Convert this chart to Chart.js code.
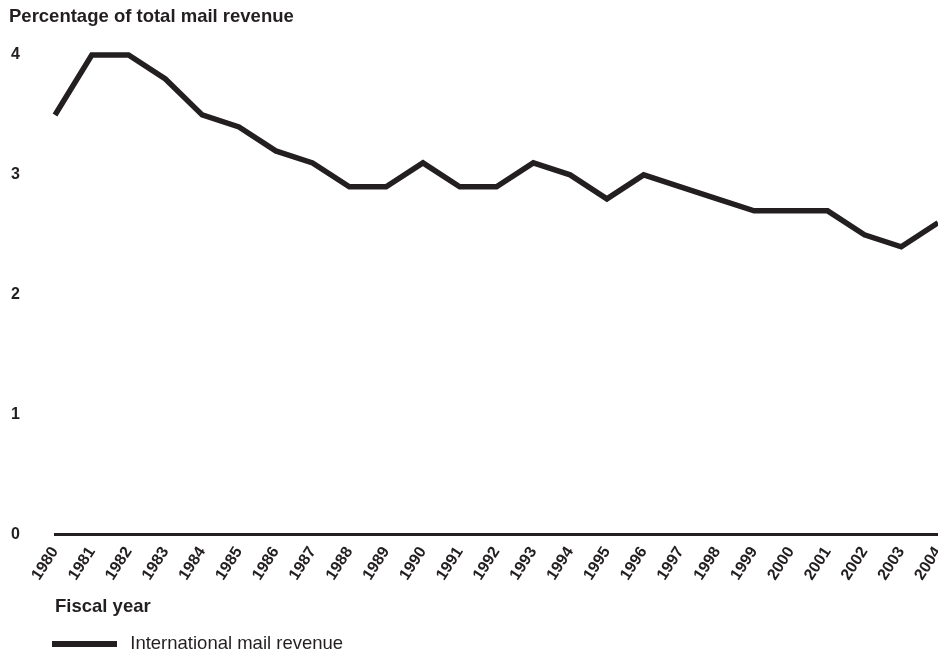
<!DOCTYPE html>
<html>
<head>
<meta charset="utf-8">
<script src="https://cdn.jsdelivr.net/npm/chart.js@4/dist/chart.umd.min.js"></script>
<style>
html,body{margin:0;padding:0;background:#fff;}
#wrap{width:938px;height:656px;position:relative;}
</style>
</head>
<body>
<div id="wrap"><canvas id="c" width="938" height="656"></canvas></div>
<script>
const years = ['1980','1981','1982','1983','1984','1985','1986','1987','1988','1989','1990','1991','1992','1993','1994','1995','1996','1997','1998','1999','2000','2001','2002','2003','2004'];
const intlRevenue = [3.5,4.0,4.0,3.8,3.5,3.4,3.2,3.1,2.9,2.9,3.1,2.9,2.9,3.1,3.0,2.8,3.0,2.9,2.8,2.7,2.7,2.7,2.5,2.4,2.6];
const yTicks = [0,1,2,3,4];
const seriesName = 'International mail revenue';
const chartTitle = 'Percentage of total mail revenue';
const xTitle = 'Fiscal year';

const INK = '#231f20';
const FONT = "'Liberation Sans', Arial, Helvetica, sans-serif";

// legend swatch: a 65px bar inside a 69px-wide image (gap before text)
const sw = document.createElement('canvas');
sw.width = 69; sw.height = 6;
const sctx = sw.getContext('2d');
sctx.fillStyle = INK;
sctx.fillRect(0, 0, 65, 6);

const legendShift = {
  id: 'legendShift',
  afterLayout(chart) {
    const lg = chart.legend;
    if (!lg) return;
    lg.top += 7; lg.bottom += 7;
    lg.left -= 3; lg.right -= 3;
  }
};

new Chart(document.getElementById('c'), {
  type: 'line',
  data: {
    labels: years,
    datasets: [{
      label: seriesName,
      data: intlRevenue,
      borderColor: INK,
      backgroundColor: INK,
      borderWidth: 5.5,
      pointRadius: 0,
      pointHoverRadius: 0,
      tension: 0,
      fill: false,
      clip: false
    }]
  },
  plugins: [legendShift],
  options: {
    responsive: false,
    animation: false,
    events: [],
    layout: { padding: { left: 9, right: 0, top: 0, bottom: 0 } },
    scales: {
      x: {
        type: 'category',
        offset: false,
        grid: { display: false, drawTicks: false },
        border: { display: true, color: INK, width: 3 },
        ticks: {
          color: INK,
          font: { family: FONT, size: 16, weight: 'bold' },
          minRotation: 57,
          maxRotation: 57,
          padding: 9,
          autoSkip: false
        },
        title: {
          display: true,
          text: xTitle,
          align: 'start',
          color: INK,
          font: { family: FONT, size: 18.5, weight: 'bold' },
          padding: { top: 4, bottom: 9 }
        },
        afterFit: s => { s.height = 93; s.paddingRight = 0; }
      },
      y: {
        min: 0,
        max: 4,
        grid: { display: false, drawTicks: false },
        border: { display: false },
        afterBuildTicks: s => { s.ticks = yTicks.map(v => ({ value: v })); },
        ticks: {
          color: INK,
          font: { family: FONT, size: 16, weight: 'bold' },
          crossAlign: 'near',
          padding: 35
        },
        afterFit: s => { s.width = 46; }
      }
    },
    plugins: {
      title: {
        display: true,
        text: chartTitle,
        align: 'start',
        color: INK,
        font: { family: FONT, size: 18.5, weight: 'bold' },
        padding: { top: 6, bottom: 26.8 }
      },
      legend: {
        display: true,
        position: 'bottom',
        align: 'start',
        fullSize: false,
        labels: {
          color: INK,
          font: { family: FONT, size: 18.5 },
          usePointStyle: true,
          pointStyle: sw,
          pointStyleWidth: 69,
          boxHeight: 6,
          padding: 0
        }
      },
      tooltip: { enabled: false }
    }
  }
});
</script>
</body>
</html>
